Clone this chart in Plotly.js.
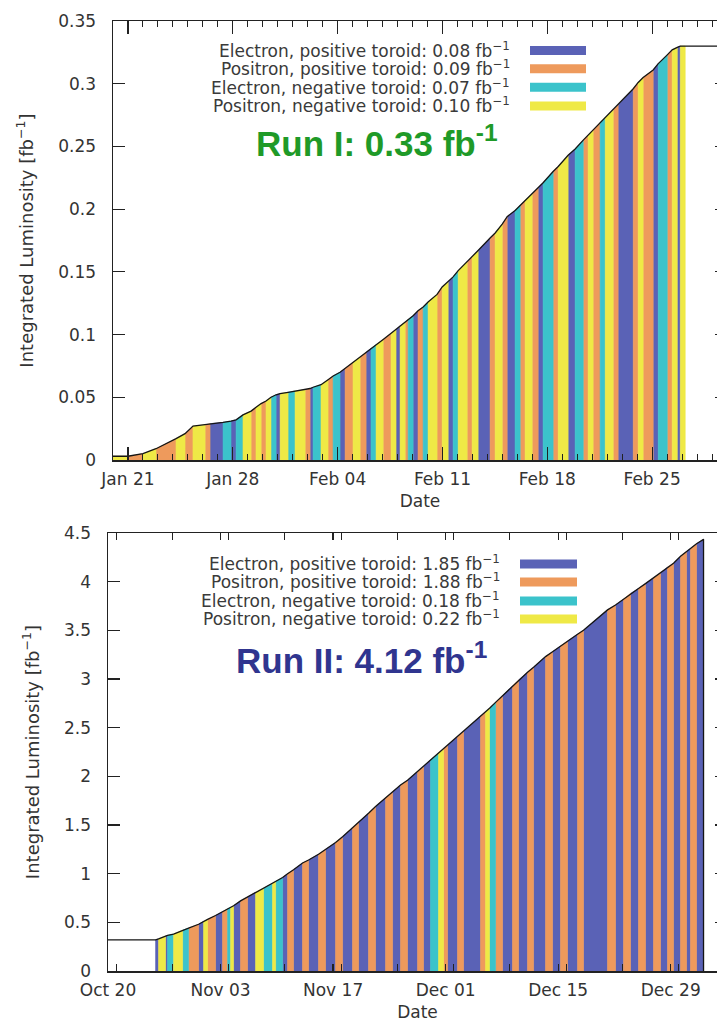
<!DOCTYPE html>
<html><head><meta charset="utf-8">
<script src="https://cdn.plot.ly/plotly-3.0.1.min.js"></script>
<style>
html,body{margin:0;padding:0;overflow:hidden;background:#fff;width:717px;height:1026px}
#chart{width:735px;height:1026px}
</style>
</head><body><div id="chart"></div>
<script>
// ---------- data ----------
const typeCodes = ['B','O','C','Y'];
const typeNames = ['Electron, positive toroid','Positron, positive toroid','Electron, negative toroid','Positron, negative toroid'];
const typeColors = ['#5a62b6','#ee9a5c','#3bc3cb','#efe946'];
const run1Totals = ['0.08','0.09','0.07','0.10'];
const run2Totals = ['1.85','1.88','0.18','0.22'];

// Run I: segment boundaries (days since start), integrated luminosity at each boundary, run type per segment
const run1Start = '2012-01-20';
const run1End = '2012-03-01';
const run1Days = [0, 1.00, 2.00, 2.87, 4.21, 4.81, 5.34, 6.15, 6.48, 7.35, 7.88, 8.22, 8.68, 9.22, 9.55, 9.89, 10.22, 10.55, 10.89, 11.16, 11.69, 12.16, 12.83, 13.16, 13.36, 13.89, 14.36, 14.70, 15.16, 15.50, 16.03, 16.50, 16.90, 17.23, 17.57, 18.04, 18.57, 18.90, 19.17, 19.51, 19.71, 20.04, 20.37, 20.71, 21.04, 21.64, 21.98, 22.38, 22.71, 23.05, 23.65, 23.98, 24.38, 25.18, 25.52, 25.99, 26.32, 26.85, 27.19, 27.52, 27.99, 28.39, 28.72, 29.39, 29.73, 30.39, 30.86, 31.40, 31.73, 32.06, 32.53, 32.87, 33.40, 33.73, 34.74, 35.07, 35.40, 36.07, 36.41, 37.01, 37.34, 37.68, 37.88, 38.21];
const run1Lumi = [0.003, 0.003, 0.005, 0.009, 0.017, 0.021, 0.027, 0.028, 0.029, 0.030, 0.031, 0.032, 0.036, 0.039, 0.042, 0.045, 0.047, 0.050, 0.052, 0.053, 0.054, 0.055, 0.056, 0.057, 0.058, 0.060, 0.064, 0.067, 0.070, 0.073, 0.078, 0.082, 0.086, 0.089, 0.092, 0.096, 0.101, 0.104, 0.107, 0.110, 0.112, 0.115, 0.119, 0.122, 0.126, 0.132, 0.138, 0.142, 0.146, 0.151, 0.158, 0.162, 0.167, 0.177, 0.181, 0.188, 0.194, 0.199, 0.203, 0.207, 0.212, 0.217, 0.221, 0.230, 0.234, 0.243, 0.248, 0.255, 0.259, 0.263, 0.269, 0.273, 0.279, 0.283, 0.296, 0.301, 0.305, 0.311, 0.316, 0.323, 0.327, 0.329, 0.330, 0.330];
const run1Type = ['Y','O','Y','O','Y','O','Y','O','B','C','B','C','Y','O','Y','O','Y','C','B','Y','C','Y','O','B','C','Y','O','C','B','O','Y','O','B','C','Y','O','Y','B','Y','O','C','B','O','C','Y','O','Y','B','C','Y','O','Y','B','O','Y','O','B','C','O','Y','O','B','C','O','Y','B','C','O','Y','O','C','Y','O','B','O','Y','O','B','C','O','Y','B','Y'];

// Run II
const run2Start = '2012-10-20';
const run2End = '2013-01-05';
const run2Days = [5.92, 6.29, 7.16, 7.41, 8.16, 9.28, 10.02, 11.27, 11.89, 12.39, 13.38, 14.25, 14.88, 15.25, 15.62, 16.49, 17.36, 18.36, 19.35, 20.47, 20.85, 21.72, 22.34, 23.08, 24.20, 24.95, 26.19, 27.06, 28.31, 29.18, 30.42, 31.17, 32.41, 33.28, 34.53, 35.40, 36.39, 37.26, 38.51, 39.25, 40.12, 41.12, 41.74, 42.24, 43.48, 44.23, 46.34, 46.97, 47.46, 48.21, 49.08, 50.32, 51.07, 52.19, 52.94, 54.43, 55.30, 56.29, 57.16, 58.41, 59.15, 62.14, 63.13, 64.13, 65.00, 65.99, 66.86, 67.86, 68.73, 69.60, 70.35, 71.22, 71.97, 72.46, 73.21, 74.08];
const run2Lumi = [0.32, 0.33, 0.36, 0.365, 0.38, 0.42, 0.44, 0.48, 0.51, 0.53, 0.57, 0.61, 0.64, 0.655, 0.67, 0.72, 0.76, 0.81, 0.85, 0.90, 0.92, 0.96, 1.00, 1.04, 1.11, 1.14, 1.20, 1.25, 1.32, 1.38, 1.47, 1.53, 1.62, 1.69, 1.78, 1.84, 1.91, 1.96, 2.05, 2.10, 2.17, 2.24, 2.28, 2.32, 2.41, 2.46, 2.62, 2.66, 2.70, 2.76, 2.83, 2.93, 2.99, 3.07, 3.12, 3.23, 3.28, 3.34, 3.39, 3.46, 3.50, 3.71, 3.76, 3.82, 3.88, 3.93, 3.98, 4.04, 4.09, 4.15, 4.19, 4.26, 4.31, 4.34, 4.39, 4.435];
const run2Type = ['B','Y','B','C','Y','C','O','B','Y','O','B','O','C','Y','B','O','B','Y','C','Y','C','B','O','B','O','B','O','B','O','B','O','B','O','B','O','B','O','B','O','B','C','Y','O','B','O','B','O','Y','C','O','B','O','B','O','B','O','B','O','B','O','B','O','B','O','B','O','B','O','B','O','B','O','B','O','B'];

const run1Label = 'Run I: 0.33 fb<sup>-1</sup>';
const run2Label = 'Run II: 4.12 fb<sup>-1</sup>';

// ---------- helpers ----------
function toDate(start, d){
  const ms = Date.parse(start + 'T00:00:00Z') + d * 86400000;
  return new Date(ms).toISOString().slice(0,19).replace('T',' ');
}
function stripeTraces(start, days, lumi, types, xa, ya){
  return typeCodes.map((t,k)=>{
    const x=[], y=[];
    for(let i=0;i<types.length;i++){
      if(types[i]!==t) continue;
      const a=toDate(start,days[i]), b=toDate(start,days[i+1]);
      x.push(a,a,b,b,null); y.push(0,lumi[i],lumi[i+1],0,null);
    }
    return {type:'scatter', mode:'lines', x, y, xaxis:xa, yaxis:ya, fill:'toself',
      fillcolor:typeColors[k], line:{width:0.6, color:typeColors[k]}, hoverinfo:'skip',
      showlegend:false, name:typeNames[k]};
  });
}

const traces = [];
traces.push(...stripeTraces(run1Start, run1Days, run1Lumi, run1Type, 'x', 'y'));
traces.push(...stripeTraces(run2Start, run2Days, run2Lumi, run2Type, 'x2', 'y2'));

// cumulative curves
traces.push({type:'scatter', mode:'lines', xaxis:'x', yaxis:'y',
  x: run1Days.map(d=>toDate(run1Start,d)).concat([run1End]),
  y: run1Lumi.concat([run1Lumi[run1Lumi.length-1]]),
  line:{color:'#151515', width:1.3}, showlegend:false, hoverinfo:'skip'});
traces.push({type:'scatter', mode:'lines', xaxis:'x2', yaxis:'y2',
  x: [run2Start].concat(run2Days.map(d=>toDate(run2Start,d))).concat([toDate(run2Start, run2Days[run2Days.length-1])]),
  y: [run2Lumi[0]].concat(run2Lumi).concat([0]),
  line:{color:'#151515', width:1.3}, showlegend:false, hoverinfo:'skip'});

// ---------- layout ----------
const W = 727, H = 1026;
const FONT = 'DejaVu Sans, sans-serif';
const tickFont = {family:FONT, size:17, color:'#333'};
const titleFont = {family:FONT, size:18, color:'#333'};
const DAY = 86400000;
function xAxis(domain, range, tick0, dtick, mdtick, ticklen, mticklen, labelOff, titleOff){
  return {type:'date', domain, range, tick0, dtick, tickformat:'%b %d',
    ticks:'inside', ticklen, tickwidth:1.2, tickcolor:'#222',
    showline:true, linecolor:'#222', linewidth:1.5, mirror:'allticks',
    showgrid:false, zeroline:false, fixedrange:true, automargin:false,
    minor:{dtick:mdtick, ticks:'inside', ticklen:mticklen, tickwidth:1, tickcolor:'#222', showgrid:false},
    tickfont:tickFont, ticklabelstandoff:labelOff,
    title:{text:'Date', font:{family:FONT, size:17, color:'#333'}, standoff:titleOff}};
}
function yAxis(domain, range, dtick, anchor){
  return {domain, range, dtick, anchor, ticks:'inside', ticklen:12, tickwidth:1.2, tickcolor:'#222',
    showline:true, linecolor:'#222', linewidth:1.5, mirror:'allticks',
    showgrid:false, zeroline:false, fixedrange:true, automargin:false,
    tickfont:tickFont, ticklabelstandoff:12,
    title:{text:'Integrated Luminosity [fb<sup>−1</sup>]', font:titleFont, standoff:20}};
}

const layout = {
  width:735, height:1026,
  margin:{l:0, r:8, t:0, b:0},
  paper_bgcolor:'#fff', plot_bgcolor:'#fff',
  showlegend:false,
  xaxis: Object.assign(xAxis([113/W,1], [run1Start, run1End], '2012-01-21', 7*DAY, DAY, 13, 6, 3, 7), {anchor:'y'}),
  yaxis: yAxis([1-460/H, 1-21/H], [0,0.35], 0.05, 'x'),
  xaxis2: Object.assign(xAxis([108/W,1], [run2Start, run2End], '2012-10-20', 14*DAY, 7*DAY, 7, 7, 3, 7), {anchor:'y2'}),
  yaxis2: yAxis([1-971/H, 1-533/H], [0,4.5], 0.5, 'x2'),
  annotations:[], shapes:[]
};

function addLegend(rightPx, ys, swX0, swX1, swYs, totals){
  totals.forEach((tot,k)=>{
    layout.annotations.push({xref:'paper', yref:'paper', x:rightPx/W, y:1-ys[k]/H, xanchor:'right', yanchor:'middle',
      text: typeNames[k] + ': ' + tot + ' fb<sup>−1</sup>', showarrow:false,
      font:{family:FONT, size:17, color:'#3a3a3a'}});
    layout.shapes.push({type:'rect', xref:'paper', yref:'paper', x0:swX0/W, x1:swX1/W,
      y0:1-(swYs[k]-4.5)/H, y1:1-(swYs[k]+4.5)/H, fillcolor:typeColors[k], line:{width:0}});
  });
}
addLegend(512, [50,68,87,105], 530, 586, [50.5,68.7,87.3,106], run1Totals);
addLegend(502, [563,581,600,618], 520, 577, [564,582,601,619], run2Totals);

layout.annotations.push({xref:'paper', yref:'paper', x:377/W, y:1-141/H, xanchor:'center', yanchor:'middle',
  text:'<b>'+run1Label+'</b>', showarrow:false, font:{family:'Liberation Sans, Arial, sans-serif', size:35, color:'#1f9a28'}});
layout.annotations.push({xref:'paper', yref:'paper', x:361/W, y:1-658/H, xanchor:'center', yanchor:'middle',
  text:'<b>'+run2Label+'</b>', showarrow:false, font:{family:'Liberation Sans, Arial, sans-serif', size:35, color:'#30358f'}});

Plotly.newPlot('chart', traces, layout, {staticPlot:true, displayModeBar:false});
</script>
</body></html>
